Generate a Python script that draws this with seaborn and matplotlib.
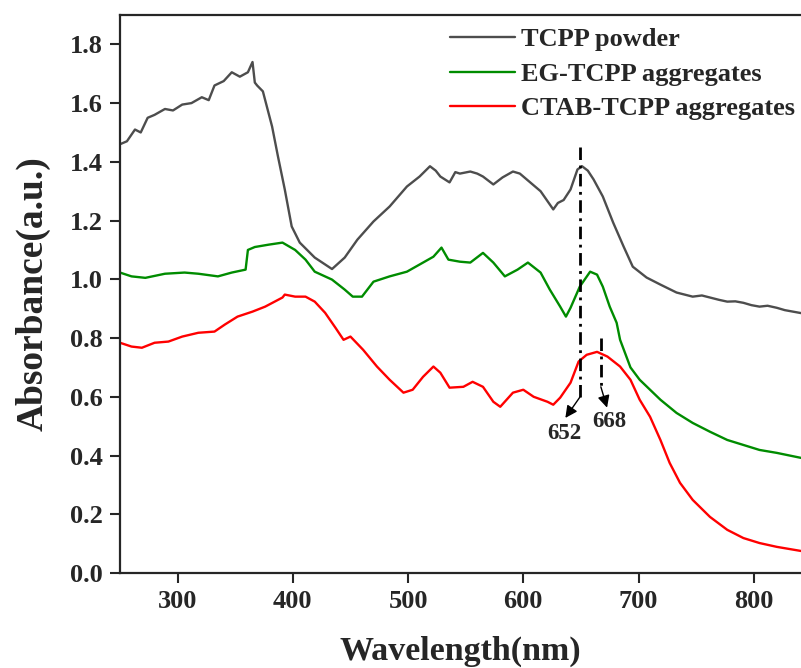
import matplotlib
matplotlib.use("Agg")
import matplotlib.pyplot as plt
import seaborn as sns
import pandas as pd

# ---------------- data ----------------
gray_wl = [250, 256, 263, 268, 274, 280, 289, 296, 304, 312, 321, 327, 332, 340, 347, 354, 361, 365, 367, 369, 374, 382, 387, 393, 399, 406, 419, 434, 445,
           456, 470, 484, 499, 510, 519, 524, 528, 536, 541, 545, 554, 560, 565, 574, 582, 591, 597, 603, 609, 615, 626, 630, 635, 641, 647,
           651, 656, 661, 669, 678, 687, 695, 707, 719, 733, 747, 755, 762, 770, 777, 784, 791, 798, 805, 812, 820, 827, 834, 841]
gray_A = [1.46, 1.47, 1.51, 1.50, 1.55, 1.56, 1.58, 1.575, 1.595, 1.60, 1.62, 1.61, 1.66, 1.675, 1.705, 1.69, 1.705, 1.74, 1.67, 1.66, 1.64, 1.52, 1.42, 1.306, 1.18, 1.125, 1.074, 1.035, 1.074,
          1.135, 1.197, 1.248, 1.316, 1.35, 1.385, 1.37, 1.35, 1.33, 1.365, 1.36, 1.367, 1.36, 1.35, 1.323, 1.347, 1.367, 1.36, 1.34, 1.32, 1.30, 1.238, 1.26, 1.27, 1.306, 1.374,
          1.385, 1.37, 1.34, 1.282, 1.193, 1.112, 1.043, 1.006, 0.982, 0.955, 0.941, 0.945, 0.938, 0.93, 0.924, 0.925, 0.92, 0.912, 0.907, 0.91, 0.903, 0.895, 0.89, 0.885]

green_wl = [250, 260, 272, 289, 306, 318, 335, 347, 359, 361, 367, 379, 391, 402, 411, 419, 434, 445, 452, 460,
            470, 484, 499, 513, 522, 529, 535, 545, 554, 565, 574, 584, 595, 604, 615, 623, 632, 637, 641, 649,
            658, 664, 669, 675, 681, 684, 693, 701, 710, 719, 733, 747, 762, 777, 791, 805, 820, 841]
green_A = [1.023, 1.01, 1.005, 1.019, 1.023, 1.019, 1.01, 1.023, 1.033, 1.10, 1.11, 1.118, 1.125, 1.10, 1.067, 1.026, 0.999, 0.965, 0.941, 0.941,
           0.992, 1.01, 1.026, 1.057, 1.077, 1.108, 1.067, 1.06, 1.057, 1.09, 1.057, 1.01, 1.033, 1.057, 1.023, 0.965, 0.907, 0.873, 0.903, 0.975,
           1.026, 1.016, 0.975, 0.907, 0.852, 0.794, 0.70, 0.658, 0.624, 0.59, 0.545, 0.511, 0.481, 0.453, 0.436, 0.419, 0.409, 0.392]

red_wl = [250, 260, 269, 280, 292, 304, 318, 332, 341, 352, 365, 376, 391, 393, 402, 411, 419, 428, 437, 444,
          450, 461, 473, 484, 496, 504, 513, 522, 528, 536, 548, 556, 565, 574, 580, 591, 600, 609, 621, 626,
          632, 641, 648, 655, 664, 673, 684, 693, 701, 710, 719, 727, 736, 747, 762, 777, 791, 805, 820, 841]
red_A = [0.784, 0.771, 0.767, 0.784, 0.788, 0.805, 0.818, 0.822, 0.846, 0.873, 0.89, 0.907, 0.938, 0.948, 0.941, 0.941, 0.924, 0.886, 0.835, 0.794,
         0.805, 0.76, 0.703, 0.658, 0.614, 0.624, 0.668, 0.703, 0.682, 0.631, 0.634, 0.651, 0.634, 0.583, 0.566, 0.614, 0.624, 0.60, 0.583, 0.573,
         0.597, 0.648, 0.72, 0.743, 0.753, 0.737, 0.703, 0.658, 0.59, 0.532, 0.453, 0.375, 0.307, 0.249, 0.191, 0.147, 0.119, 0.102, 0.089, 0.075]

series_names = ["TCPP powder", "EG-TCPP aggregates", "CTAB-TCPP aggregates"]
series_colors = ["#4d4d4d", "#008c00", "#ff0000"]

x_ticks = [300, 400, 500, 600, 700, 800]
y_ticks = [0.0, 0.2, 0.4, 0.6, 0.8, 1.0, 1.2, 1.4, 1.6, 1.8]

peak_labels = ["652", "668"]

# ---------------- style ----------------
sns.set_theme(style="ticks")
plt.rcParams["font.family"] = ["Liberation Serif", "DejaVu Serif"]
plt.rcParams["font.weight"] = "bold"
plt.rcParams["axes.linewidth"] = 1.6

fig = plt.figure(figsize=(8.01, 6.68), dpi=100)
ax = fig.add_axes([120 / 801, 1 - 573 / 668, 681 / 801, 558 / 668])

frames = [
    pd.DataFrame({"wl": gray_wl, "A": gray_A}),
    pd.DataFrame({"wl": green_wl, "A": green_A}),
    pd.DataFrame({"wl": red_wl, "A": red_A}),
]
for df, name, col in zip(frames, series_names, series_colors):
    sns.lineplot(data=df, x="wl", y="A", ax=ax, color=col, lw=1.7,
                 label=name, sort=False, estimator=None)

ax.set_xlim(250, 841)
ax.set_ylim(0, 1.9)
ax.set_xticks(x_ticks)
ax.set_yticks(y_ticks)
ax.set_yticklabels([f"{v:.1f}" for v in y_ticks])
ax.tick_params(direction="out", length=7.5, width=1.5, labelsize=19, pad=5)
for lab in ax.get_xticklabels() + ax.get_yticklabels():
    lab.set_fontweight("bold")
ax.spines["right"].set_visible(False)

ax.set_xlabel("Wavelength(nm)", fontsize=24.5, fontweight="bold", labelpad=16)
ax.set_ylabel("Absorbance(a.u.)", fontsize=27, fontweight="bold", labelpad=14)

# peak markers: dash-dot lines + arrows
dashdot = (0, (4.5, 2, 1, 2))
ax.plot([649.3, 649.3], [1.452, 0.60], color="black", lw=2, linestyle=dashdot)
ax.plot([667.3, 667.3], [0.80, 0.634], color="black", lw=2, linestyle=dashdot)
arrow = dict(arrowstyle="-|>", color="black", lw=1.0, mutation_scale=18, shrinkA=0, shrinkB=0)
ax.annotate("", xy=(636.5, 0.528), xytext=(649.3, 0.60), arrowprops=arrow)
ax.annotate("", xy=(672.7, 0.563), xytext=(667.3, 0.634), arrowprops=arrow)
ax.text(635.4, 0.474, peak_labels[0], fontsize=16.5, fontweight="bold", ha="center", va="center")
ax.text(674.5, 0.515, peak_labels[1], fontsize=16.5, fontweight="bold", ha="center", va="center")

leg = ax.legend(loc="upper left", bbox_to_anchor=(0.4846, 0.977), frameon=False,
                fontsize=19, handlelength=2.45, handletextpad=0.25, labelspacing=0.42,
                borderaxespad=0, borderpad=0)
for t in leg.get_texts():
    t.set_fontweight("bold")
for h in leg.get_lines():
    h.set_linewidth(1.7)

fig.savefig("out.png", dpi=100)
